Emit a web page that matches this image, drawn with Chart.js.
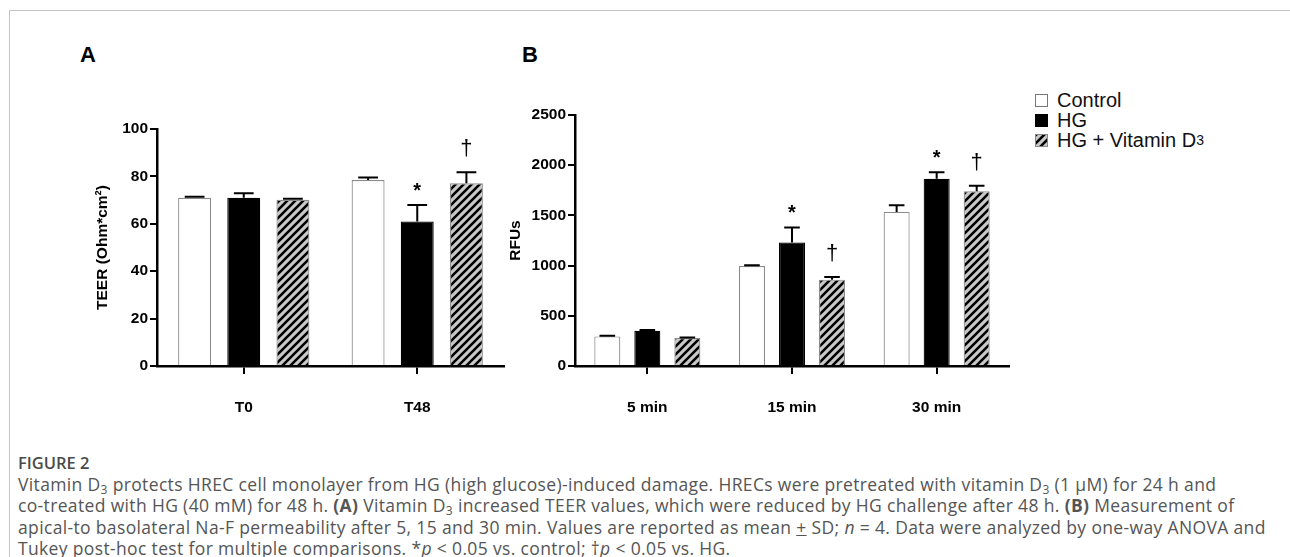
<!DOCTYPE html>
<html>
<head>
<meta charset="utf-8">
<script src="https://cdn.jsdelivr.net/npm/chart.js@4.4.1/dist/chart.umd.min.js"></script>
<style>
  html, body { margin: 0; padding: 0; background: #fff; }
  body { width: 1290px; height: 557px; position: relative; overflow: hidden; font-family: "Liberation Sans", Arial, sans-serif; }
  #frame { position: absolute; left: 9px; top: 10px; width: 1400px; height: 700px; border-left: 1px solid #c4c4c4; border-top: 1px solid #c4c4c4; }
  .panel { position: absolute; font-weight: bold; font-size: 22px; color: #000; }
  canvas { position: absolute; top: 0; }
  #legend { position: absolute; left: 1035px; top: 90px; font-size: 20px; line-height: 20px; color: #111; }
  #legend div { display: flex; align-items: center; height: 20px; }
  #legend .sw { width: 13px; height: 13px; margin-right: 9px; box-sizing: border-box; }
  #legend sub { font-size: 14px; vertical-align: -6px; line-height: 0; }
  #caption { position: absolute; left: 18px; top: 452px; font-family: "Open Sans", sans-serif; color: #555; font-size: 17.5px; letter-spacing: 0.35px; line-height: 21.5px; }
  #caption .fig { font-weight: 600; color: #4a4a4a; letter-spacing: 0; font-size: 16.5px; }
  #caption sub { font-size: 12px; vertical-align: -3px; line-height: 0; }
  #caption .line { white-space: nowrap; }
</style>
</head>
<body>
<div id="frame"></div>
<div class="panel" style="left:80px; top:42px;">A</div>
<div class="panel" style="left:522px; top:42px;">B</div>
<canvas id="chartA" width="530" height="440" style="left:0px;"></canvas>
<canvas id="chartB" width="560" height="440" style="left:470px;"></canvas>
<div id="legend">
  <div><span class="sw" style="border:1px solid #777; background:#fff;"></span>Control</div>
  <div><span class="sw" style="background:#000;"></span>HG</div>
  <div><span class="sw" id="hatchSwatch" style="border:1px solid #888;"></span>HG + Vitamin D<sub>3</sub></div>
</div>
<div id="caption">
  <div class="fig">FIGURE 2</div>
  <div class="line">Vitamin D<sub>3</sub> protects HREC cell monolayer from HG (high glucose)-induced damage. HRECs were pretreated with vitamin D<sub>3</sub> (1 μM) for 24 h and</div>
  <div class="line">co-treated with HG (40 mM) for 48 h. <b>(A)</b> Vitamin D<sub>3</sub> increased TEER values, which were reduced by HG challenge after 48 h. <b>(B)</b> Measurement of</div>
  <div class="line">apical-to basolateral Na-F permeability after 5, 15 and 30 min. Values are reported as mean <u>+</u> SD; <i>n</i> = 4. Data were analyzed by one-way ANOVA and</div>
  <div class="line">Tukey post-hoc test for multiple comparisons. *<i>p</i> &lt; 0.05 vs. control; †<i>p</i> &lt; 0.05 vs. HG.</div>
</div>
<script>
// panel A: TEER
const teerLabels = ['T0', 'T48'];
const teerControl = [71, 78.5];
const teerControlSd = [0.4, 1];
const teerHG = [71, 61];
const teerHGSd = [1.9, 6.9];
const teerVitD = [70.1, 77.1];
const teerVitDSd = [0.5, 4.6];
const teerMarks = [['', ''], ['', '*'], ['', '†']];
const teerTicks = { min: 0, max: 100, step: 20 };

// panel B: Na-F permeability
const rfuLabels = ['5 min', '15 min', '30 min'];
const rfuControl = [295, 995, 1535];
const rfuControlSd = [6, 8, 65];
const rfuHG = [350, 1230, 1865];
const rfuHGSd = [8, 150, 65];
const rfuVitD = [278, 860, 1740];
const rfuVitDSd = [6, 27, 55];
const rfuMarks = [['', '', ''], ['', '*', '*'], ['', '†', '†']];
const rfuTicks = { min: 0, max: 2500, step: 500 };

const seriesNames = ['Control', 'HG', 'HG + Vitamin D₃'];

const makeHatch = () => {
    const c = document.createElement('canvas');
    c.width = 8; c.height = 8;
    const g = c.getContext('2d');
    g.fillStyle = '#c9c9c9';
    g.fillRect(0, 0, 8, 8);
    g.strokeStyle = '#000';
    g.lineWidth = 2.6;
    g.beginPath();
    g.moveTo(-2, 10); g.lineTo(10, -2);
    g.moveTo(-2, 2); g.lineTo(2, -2);
    g.moveTo(6, 10); g.lineTo(10, 6);
    g.stroke();
    return c;
};
const hatchTile = makeHatch();
document.getElementById('hatchSwatch').style.background = `url(${hatchTile.toDataURL()})`;

const errorBars = {
    id: 'errorBars',
    afterDatasetsDraw(chart) {
        const ctx = chart.ctx;
        const y = chart.scales.y;
        ctx.save();
        chart.data.datasets.forEach((ds, i) => {
            const meta = chart.getDatasetMeta(i);
            meta.data.forEach((bar, j) => {
                const top = y.getPixelForValue(ds.data[j] + ds.sd[j]);
                const cap = bar.width * 0.6;
                ctx.strokeStyle = '#000';
                ctx.lineWidth = 2;
                ctx.beginPath();
                ctx.moveTo(bar.x, bar.y);
                ctx.lineTo(bar.x, top);
                ctx.moveTo(bar.x - cap / 2, top);
                ctx.lineTo(bar.x + cap / 2, top);
                ctx.stroke();
                const mark = ds.marks[j];
                if (mark) {
                    ctx.fillStyle = '#000';
                    ctx.textAlign = 'center';
                    ctx.textBaseline = 'alphabetic';
                    if (mark === '*') {
                        ctx.font = 'bold 20px "Liberation Sans"';
                        ctx.fillText(mark, bar.x, top - 8);
                    } else {
                        ctx.font = '22px "Liberation Sans"';
                        ctx.fillText(mark, bar.x, top - 17);
                    }
                }
            });
        });
        ctx.restore();
    }
};

const tickFont = { family: '"Liberation Sans", Arial, sans-serif', size: 15.5, weight: 'bold' };

const buildChart = (canvasId, labels, values, sds, marks, range, title, layout) => {
    const hatch = document.getElementById(canvasId).getContext('2d').createPattern(hatchTile, 'repeat');
    const fills = ['#ffffff', '#000000', hatch];
    const borders = ['#8a8a8a', '#000000', '#8a8a8a'];
    return new Chart(document.getElementById(canvasId), {
        type: 'bar',
        data: {
            labels: labels,
            datasets: values.map((v, i) => ({
                label: seriesNames[i],
                data: v,
                sd: sds[i],
                marks: marks[i],
                backgroundColor: fills[i],
                borderColor: borders[i],
                borderWidth: 1.2,
                barPercentage: layout.barPct,
                categoryPercentage: layout.catPct,
            }))
        },
        options: {
            responsive: false,
            animation: false,
            devicePixelRatio: 1,
            layout: { padding: layout.padding },
            plugins: { legend: { display: false }, tooltip: { enabled: false } },
            scales: {
                x: {
                    offset: true,
                    grid: { display: true, offset: false, drawOnChartArea: false, drawTicks: true, tickLength: 8, color: '#000', lineWidth: 2 },
                    border: { display: true, color: '#000', width: 2.5 },
                    ticks: { color: '#000', font: tickFont, padding: 24 },
                    afterFit: (scale) => { scale.height = layout.xHeight; }
                },
                y: {
                    min: range.min,
                    max: range.max,
                    grid: { display: true, drawOnChartArea: false, drawTicks: true, tickLength: 7, color: '#000', lineWidth: 2 },
                    border: { display: true, color: '#000', width: 2.5 },
                    ticks: { stepSize: range.step, color: '#000', font: tickFont, padding: 2, callback: (v) => String(v) },
                    title: { display: true, text: title, color: '#000', font: { family: '"Liberation Sans", Arial, sans-serif', size: 15.5, weight: 'bold' }, padding: 0 },
                    afterFit: (scale) => { scale.width = layout.yWidth; }
                }
            }
        },
        plugins: [errorBars]
    });
};

buildChart('chartA', teerLabels,
    [teerControl, teerHG, teerVitD], [teerControlSd, teerHGSd, teerVitDSd], teerMarks, teerTicks,
    'TEER (Ohm*cm²)',
    { padding: { left: 93, right: 26, top: 129, bottom: 0 }, yWidth: 64, xHeight: 74, barPct: 0.67, catPct: 0.85 });

buildChart('chartB', rfuLabels,
    [rfuControl, rfuHG, rfuVitD], [rfuControlSd, rfuHGSd, rfuVitDSd], rfuMarks, rfuTicks,
    'RFUs',
    { padding: { left: 36, right: 21, top: 115, bottom: 0 }, yWidth: 69, xHeight: 74, barPct: 0.65, catPct: 0.83 });
</script>
</body>
</html>
